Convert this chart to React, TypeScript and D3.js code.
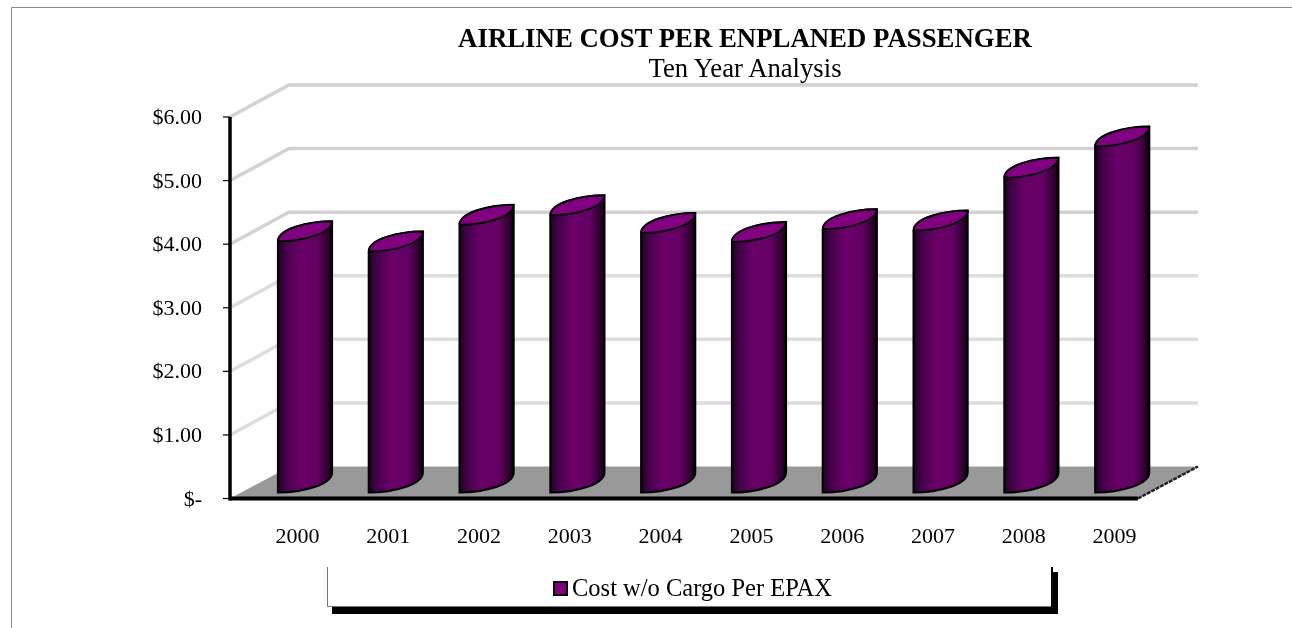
import { useEffect, useRef } from 'react';
import * as d3 from 'd3';

const years = ['2000', '2001', '2002', '2003', '2004', '2005', '2006', '2007', '2008', '2009'];
const costs = [3.95, 3.79, 4.21, 4.36, 4.08, 3.94, 4.14, 4.12, 4.95, 5.44];
const yTicks = [0, 1, 2, 3, 4, 5, 6];
const seriesName = 'Cost w/o Cargo Per EPAX';

const formatTick = (d: number) => (d === 0 ? '$-' : `$${d.toFixed(2)}`);

export default function App() {
  const svgRef = useRef<SVGSVGElement>(null);

  useEffect(() => {
    const svg = d3.select(svgRef.current);
    svg.selectAll('*').remove();

    const font = '"Liberation Serif", "Times New Roman", serif';
    const depthX = 60;
    const depthY = -32;
    const y = d3.scaleLinear().domain([0, 6]).range([498.5, 117]);
    const x = d3.scaleBand().domain(years).range([230, 1138]);

    const defs = svg.append('defs');
    const grad = defs.append('linearGradient').attr('id', 'barBody');
    [
      ['0%', '#1c041c'],
      ['14%', '#44024a'],
      ['40%', '#680068'],
      ['72%', '#640064'],
      ['92%', '#2e022e'],
      ['100%', '#0c000c']
    ].forEach(([offset, color]) => {
      grad.append('stop').attr('offset', offset).attr('stop-color', color);
    });

    // outer frame, only top and left show
    svg.append('path')
      .attr('d', 'M11.5,628V7.5H1292')
      .attr('fill', 'none')
      .attr('stroke', '#8c8c8c');

    // gridlines on the side wall and back wall
    yTicks.filter(d => d > 0).forEach(d => {
      const yy = y(d);
      svg.append('path')
        .attr('d', `M${230},${yy}L${230 + depthX - 1},${yy + depthY}H${1138 + depthX}`)
        .attr('fill', 'none')
        .attr('stroke', d > 3 ? '#d2d2d2' : '#dddddd')
        .attr('stroke-width', 3.5);
    });

    // floor
    svg.append('path')
      .attr('d', `M230,${y(0)}L${230 + depthX},${y(0) + depthY}H${1138 + depthX}L1138,${y(0)}Z`)
      .attr('fill', '#999999');
    svg.append('line')
      .attr('x1', 1138).attr('y1', y(0))
      .attr('x2', 1138 + depthX).attr('y2', y(0) + depthY)
      .attr('stroke', '#222')
      .attr('stroke-width', 2.5)
      .attr('stroke-dasharray', '4 1');

    // cylinders, the slanted ends are two point-symmetric cubics
    const barW = 54;
    const rise = 20;
    const lift = 6;

    const bars = svg.append('g').selectAll('g')
      .data(years.map((year, i) => ({ year, value: costs[i] })))
      .join('g');

    const left = (d: { year: string }) => (x(d.year) as number) + 48;
    const top = (d: { value: number }) => y(d.value) - lift;
    const lowerArc = (x0: number, yy: number) =>
      `C${x0 + 25},${yy} ${x0 + barW},${yy - 8} ${x0 + barW},${yy - rise}`;
    const upperArcBack = (x0: number, yy: number) =>
      `C${x0 + barW - 25},${yy - rise} ${x0},${yy - 12} ${x0},${yy}`;

    bars.append('path')
      .attr('d', d => {
        const x0 = left(d);
        const yb = y(0) - lift;
        return `M${x0},${top(d)}V${yb}${lowerArc(x0, yb)}V${top(d) - rise}${upperArcBack(x0, top(d))}Z`;
      })
      .attr('fill', 'url(#barBody)')
      .attr('stroke', '#000')
      .attr('stroke-width', 2.2);

    bars.append('path')
      .attr('d', d => {
        const x0 = left(d);
        return `M${x0},${top(d)}${lowerArc(x0, top(d))}${upperArcBack(x0, top(d))}Z`;
      })
      .attr('fill', '#800080')
      .attr('stroke', '#000')
      .attr('stroke-width', 1.8);

    // axes
    svg.append('line')
      .attr('x1', 230).attr('x2', 230)
      .attr('y1', y(6)).attr('y2', y(0) + 2)
      .attr('stroke', '#000').attr('stroke-width', 3.5);
    svg.append('line')
      .attr('x1', 229).attr('x2', 1138)
      .attr('y1', y(0)).attr('y2', y(0))
      .attr('stroke', '#000').attr('stroke-width', 4);

    svg.append('g').selectAll('line')
      .data(yTicks)
      .join('line')
      .attr('x1', 223).attr('x2', 230)
      .attr('y1', d => y(d)).attr('y2', d => y(d))
      .attr('stroke', '#000')
      .attr('stroke-width', 1.2);

    const tickText = svg.append('g')
      .attr('font-family', font)
      .attr('font-size', 22)
      .attr('fill', '#000');

    tickText.selectAll('.ylab')
      .data(yTicks)
      .join('text')
      .attr('class', 'ylab')
      .attr('x', 202)
      .attr('y', d => y(d) + 7)
      .attr('text-anchor', 'end')
      .text(formatTick);

    tickText.selectAll('.xlab')
      .data(years)
      .join('text')
      .attr('class', 'xlab')
      .attr('x', d => (x(d) as number) + x.bandwidth() / 2 + 22)
      .attr('y', 543)
      .attr('text-anchor', 'middle')
      .text(d => d);

    // title
    svg.append('text')
      .attr('x', 745).attr('y', 47)
      .attr('text-anchor', 'middle')
      .attr('font-family', font)
      .attr('font-size', 26.8)
      .attr('font-weight', 'bold')
      .text('AIRLINE COST PER ENPLANED PASSENGER');
    svg.append('text')
      .attr('x', 745).attr('y', 77)
      .attr('text-anchor', 'middle')
      .attr('font-family', font)
      .attr('font-size', 26.7)
      .text('Ten Year Analysis');

    // legend box with heavy shadow
    svg.append('path')
      .attr('d', 'M327.5,567V606.5H1051')
      .attr('fill', 'none')
      .attr('stroke', '#777');
    svg.append('path')
      .attr('d', 'M332,614H1058V572H1053V567H1051V607H332Z')
      .attr('fill', '#000');
    svg.append('rect')
      .attr('x', 554).attr('y', 582).attr('width', 13).attr('height', 13)
      .attr('fill', '#800080').attr('stroke', '#000').attr('stroke-width', 2);
    svg.append('text')
      .attr('x', 572).attr('y', 596)
      .attr('font-family', font)
      .attr('font-size', 24.5)
      .text(seriesName);
  }, []);

  return (
    <svg
      ref={svgRef}
      width={1292}
      height={628}
      style={{ position: 'absolute', left: 0, top: 0, background: '#fff', filter: 'blur(0.4px)' }}
    />
  );
}
